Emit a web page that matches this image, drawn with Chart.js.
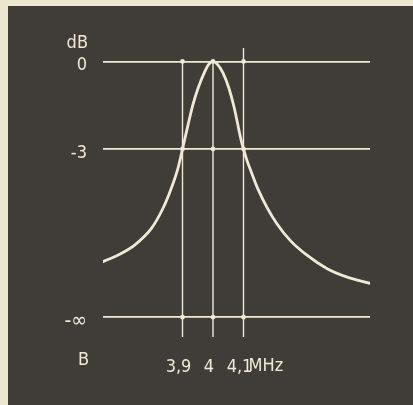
<!DOCTYPE html>
<html>
<head>
<meta charset="utf-8">
<script src="https://cdn.jsdelivr.net/npm/chart.js@4.4.1/dist/chart.umd.min.js"></script>
<style>
  html, body { margin: 0; padding: 0; background: #ece5cf; overflow: hidden; }
  #panel { position: absolute; left: 8px; top: 6px; width: 405px; height: 399px; background: #403c37; }
  #plot { position: absolute; left: 0; top: 0; }
</style>
</head>
<body>
<div id="panel"></div>
<canvas id="plot" width="413" height="405"></canvas>
<script>
// ── DATA ── resonance curve: level (dB) over frequency (MHz)
const freqMHz = [3.639, 3.689, 3.743, 3.798, 3.836, 3.863, 3.885, 3.900, 3.918, 3.934, 3.951, 3.973, 3.986, 4.000,
                 4.016, 4.033, 4.052, 4.069, 4.092, 4.100, 4.111, 4.127, 4.149, 4.176, 4.209, 4.253, 4.307, 4.373, 4.438, 4.515];
const levelDb = [-6.86, -6.63, -6.29, -5.72, -5.03, -4.35, -3.66, -3.00, -2.18, -1.49, -0.92, -0.35, -0.10, 0.00,
                 -0.12, -0.40, -0.91, -1.56, -2.69, -3.00, -3.38, -3.83, -4.41, -4.98, -5.55, -6.13, -6.63, -7.09, -7.38, -7.60];

const freqTicks = [3.9, 4.0, 4.1];
const freqTickLabels = ['3,9', '4', '4,1'];
const guideTops = [0, 0, 0.46];          // upper end of each vertical guide, dB
const levelTicks = [0, -3, -8.76];       // -8.76 is where the -∞ line is drawn
const levelTickLabels = ['0', '-3', '-∞'];

const ink = '#f0e9d5';
const font = { family: '"Liberation Sans Narrow", "DejaVu Sans Condensed", sans-serif', size: 18 };
const yMin = -9.44, yMax = 0.46;

// vertical guides at the three frequencies
const guides = freqTicks.map((f, i) => ({
    data: [{ x: f, y: guideTops[i] }, { x: f, y: yMin }],
    borderColor: ink,
    borderWidth: 1.4,
    pointRadius: 0,
    order: 3
}));

// small dots where guides cross the level lines
const dots = [];
freqTicks.forEach(f => levelTicks.forEach(l => dots.push({ x: f, y: l })));

// ── EXTRA LABELS (dB / B / MHz) ──
const axisNotes = {
    id: 'axisNotes',
    afterDraw(chart) {
        const { ctx, scales: { x, y } } = chart;
        ctx.save();
        ctx.fillStyle = ink;
        ctx.font = `${font.size}px ${font.family}`;
        ctx.textBaseline = 'middle';
        ctx.textAlign = 'right';
        ctx.fillText('dB', y.right - 15, y.getPixelForValue(0) - 18);
        ctx.fillText('B', y.right - 14, x.top + 23);
        ctx.textAlign = 'left';
        ctx.fillText('MHz', x.getPixelForValue(4.1) + 5, x.top + 29);
        ctx.restore();
    }
};

// ── CHART ──
new Chart(document.getElementById('plot'), {
    type: 'line',
    data: {
        datasets: [
            {
                data: freqMHz.map((f, i) => ({ x: f, y: levelDb[i] })),
                borderColor: ink,
                borderWidth: 2.8,
                borderCapStyle: 'round',
                pointRadius: 0,
                cubicInterpolationMode: 'monotone',
                order: 1
            },
            ...guides,
            {
                type: 'scatter',
                data: dots,
                backgroundColor: ink,
                borderWidth: 0,
                pointRadius: 2.4,
                order: 2
            }
        ]
    },
    options: {
        responsive: false,
        animation: false,
        layout: { padding: { left: 0, top: 48, right: 43, bottom: 0 } },
        plugins: { legend: { display: false }, tooltip: { enabled: false } },
        scales: {
            x: {
                type: 'linear',
                min: 3.6393, max: 4.5148,
                afterFit: s => { s.height = 68; },
                afterBuildTicks: s => { s.ticks = freqTicks.map(v => ({ value: v })); },
                grid: { display: false, drawTicks: false },
                border: { display: false },
                ticks: {
                    color: ink, font,
                    padding: 20,
                    labelOffset: -4,
                    callback: v => freqTickLabels[freqTicks.indexOf(v)]
                }
            },
            y: {
                min: yMin, max: yMax,
                afterFit: s => { s.width = 103; },
                afterBuildTicks: s => { s.ticks = levelTicks.map(v => ({ value: v })); },
                grid: { color: ink, lineWidth: 1.8, drawTicks: false },
                border: { display: false },
                ticks: {
                    color: ink,
                    font: c => (c.tick && c.tick.value === levelTicks[2]) ? { ...font, size: 21 } : font,
                    padding: 16,
                    labelOffset: 4,
                    callback: v => levelTickLabels[levelTicks.indexOf(v)]
                }
            }
        }
    },
    plugins: [axisNotes]
});
</script>
</body>
</html>
